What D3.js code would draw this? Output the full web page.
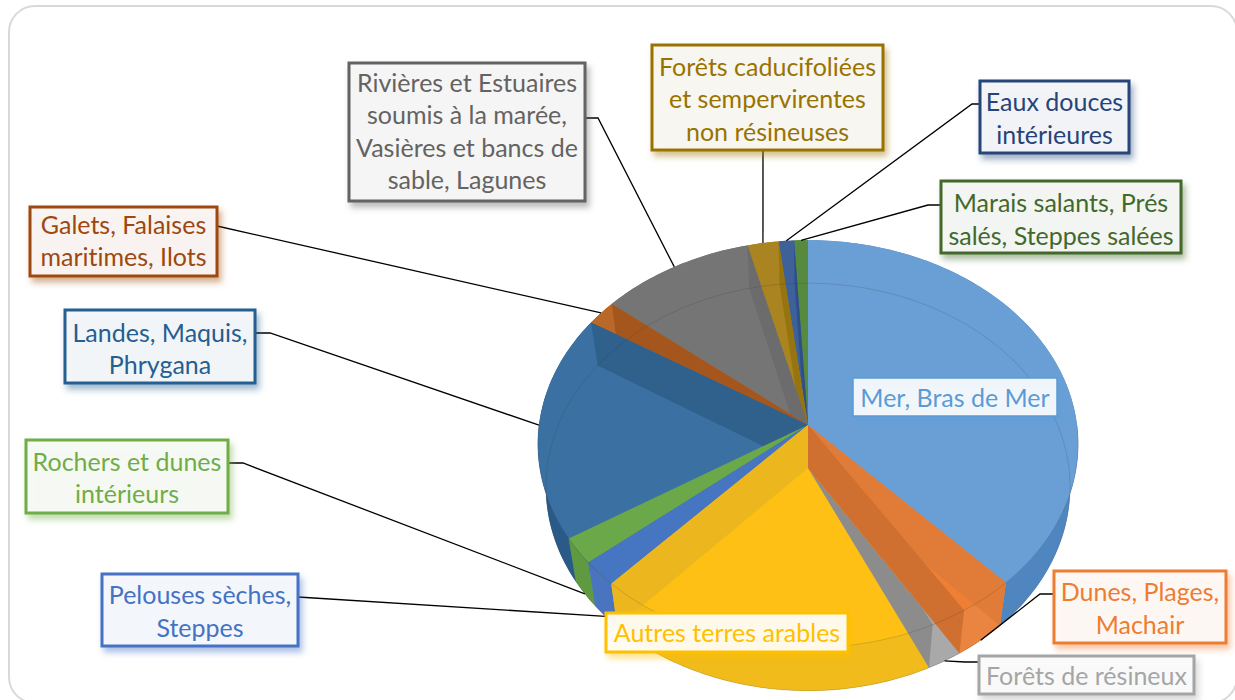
<!DOCTYPE html>
<html>
<head>
<meta charset="utf-8">
<style>
html, body { margin: 0; padding: 0; background: #fff; overflow: hidden; }
text { font-family: Lato, sans-serif; font-variant-ligatures: none; }
</style>
<script src="https://cdn.jsdelivr.net/npm/d3@7"></script>
</head>
<body>
<svg id="chart" width="1235" height="700"></svg>
<script>
// Data (share of area, %)
var categories = ["Mer, Bras de Mer", "Dunes, Plages, Machair", "Forêts de résineux", "Autres terres arables",
    "Pelouses sèches, Steppes", "Rochers et dunes intérieurs", "Landes, Maquis, Phrygana",
    "Galets, Falaises maritimes, Ilots", "Rivières et Estuaires soumis à la marée, Vasières et bancs de sable, Lagunes",
    "Forêts caducifoliées et sempervirentes non résineuses", "Eaux douces intérieures", "Marais salants, Prés salés, Steppes salées"];
var values = [37.95, 3.05, 2.0, 18.9, 2.0, 2.1, 17.9, 2.0, 10.1, 2.05, 1.0, 0.9];
var labelLines = [
    ["Mer, Bras de Mer"],
    ["Dunes, Plages,", "Machair"],
    ["Forêts de résineux"],
    ["Autres terres arables"],
    ["Pelouses sèches,", "Steppes"],
    ["Rochers et dunes", "intérieurs"],
    ["Landes, Maquis,", "Phrygana"],
    ["Galets, Falaises", "maritimes, Ilots"],
    ["Rivières et Estuaires", "soumis à la marée,", "Vasières et bancs de", "sable, Lagunes"],
    ["Forêts caducifoliées", "et sempervirentes", "non résineuses"],
    ["Eaux douces", "intérieures"],
    ["Marais salants, Prés", "salés, Steppes salées"]
];
var topColors = ["#6a9fd6", "#ef7f34", "#a5a5a5", "#fec015", "#4675c2", "#6aa84a", "#3b71a2", "#b9682a", "#757575", "#a98420", "#3f6199", "#578a3f"];
var lowerColors = ["#6a9fd6", "#ef7f34", "#8c8c8c", "#fec015", "#4675c2", "#6aa84a", "#3b71a2", "#b9682a", "#757575", "#a98420", "#3f6199", "#578a3f"];
var rimColors = ["#4f86c0", "#e98540", "#a9a9a9", "#f0bb1b", "#4a74bf", "#5f9a40", "#2a5a88", "#a5561c", "#6c6c6c", "#97750f", "#2f4f88", "#4f7f38"];
var endWallColors = [null, "#cf6f30", null, "#ecb61e", null, null, "#30608c", "#a5561c", "#6c6c6c", "#96750f", "#2f4f88", null];
var startWallColors = [null, "#e07c38", null, null, null, null, null, null, null, null, null, null];
var labelColors = ["#5b9bd5", "#ed7d31", "#a5a5a5", "#ffc000", "#4472c4", "#70ad47", "#255e91", "#9e480e", "#636363", "#997300", "#264478", "#43682b"];

// Paint order: Mer at the back, then round the left side, Forêts de résineux and Dunes last
var paintOrder = [0, 11, 10, 9, 8, 7, 6, 5, 4, 3, 2, 1];

// Label boxes: x, y, w, h
var boxes = [
    [853, 378, 204, 38], [1054, 571, 172, 72], [979, 656, 215, 38], [606, 613, 242, 39],
    [102, 574, 196, 72], [26, 440, 202, 73], [65, 310, 190, 73], [30, 207, 187, 69],
    [349, 63, 236, 138], [652, 45, 231, 105], [980, 81, 149, 72], [941, 181, 240, 72]
];
// small vertical nudge of each label's text inside its box
var textShift = [0, 1, 0, 0, 1, 1, 2, -1, -1, 1, 1, 2];
// Leader lines: box anchor, elbow point, and whether the line lands on the lower rim (null = no leader)
var leaders = [
    null,
    { from: [1054, 594], elbow: [1040, 594], lower: true },
    { from: [979, 662], elbow: [965, 662], lower: true },
    null,
    { from: [298, 597], elbow: null, lower: true },
    { from: [228, 463], elbow: [243, 463], lower: true },
    { from: [255, 333], elbow: [270, 333], lower: false },
    { from: [217, 226], elbow: null, lower: false },
    { from: [585, 118], elbow: [598, 118], lower: false },
    { from: [763, 150], elbow: null, lower: false },
    { from: [980, 104], elbow: [972, 104], lower: false },
    { from: [941, 205], elbow: [928, 205], lower: false }
];

var svg = d3.select("#chart");
var defs = svg.append("defs");

// Panel
svg.append("rect")
    .attr("x", 9).attr("y", 6).attr("width", 1228).attr("height", 697).attr("rx", 26)
    .attr("fill", "#fff").attr("stroke", "#d9d9d9").attr("stroke-width", 2);

// Pie geometry (perspective view of a cylinder)
var cx = 808, cy = 425, rx = 269, ry = 202, tilt = 0.093, depth = 43, lowerShrink = 0.97;
var xScale = d3.scaleLinear().domain([-1, 1]).range([cx - rx, cx + rx]);
var yScale = d3.scaleLinear().domain([-1, 1]).range([cy - ry, cy + ry]);

function project(angle, r, lower) {
    var s = r * Math.sin(angle), c = r * Math.cos(angle);
    var w = 1 + tilt * c;
    var x = xScale(s / w), y = yScale(-c / w);
    if (lower) {
        x = cx + (x - cx) * lowerShrink;
        y += depth;
    }
    return [x, y];
}

function rim(a0, a1, lower) {
    var n = Math.max(2, Math.ceil((a1 - a0) / 0.02));
    return d3.range(n + 1).map(function (i) {
        return project(a0 + (a1 - a0) * i / n, 1, lower);
    });
}

var line = d3.line();
var slices = d3.pie().sort(null)(values).map(function (d, i) {
    d.mid = (d.startAngle + d.endAngle) / 2;
    return d;
});

var apexTop = project(0, 0, false), apexLow = project(0, 0, true);
var pie = svg.append("g");

function radialWall(g, angle, color) {
    g.append("path")
        .attr("d", line([apexTop, project(angle, 1, false), project(angle, 1, true), apexLow]) + "Z")
        .attr("fill", color);
}

paintOrder.forEach(function (i) {
    var d = slices[i];
    var g = pie.append("g");

    // lower face
    g.append("path")
        .attr("d", line([apexLow].concat(rim(d.startAngle, d.endAngle, true))) + "Z")
        .attr("fill", lowerColors[i]);
    // outer wall
    g.append("path")
        .attr("d", line(rim(d.startAngle, d.endAngle, false).concat(rim(d.startAngle, d.endAngle, true).reverse())) + "Z")
        .attr("fill", rimColors[i]);
    // top face
    g.append("path")
        .attr("d", line([apexTop].concat(rim(d.startAngle, d.endAngle, false))) + "Z")
        .attr("fill", topColors[i]);
    // radial walls, seen through the top
    if (startWallColors[i]) radialWall(g, d.startAngle, startWallColors[i]);
    if (endWallColors[i]) radialWall(g, d.endAngle, endWallColors[i]);
});

// thin rim lines showing through
pie.append("path").attr("d", line(rim(0, 2 * Math.PI, true)))
    .attr("fill", "none").attr("stroke", "#333").attr("stroke-opacity", 0.18).attr("stroke-width", 1);
pie.append("path").attr("d", line(rim(Math.PI / 2, 3 * Math.PI / 2, false)))
    .attr("fill", "none").attr("stroke", "#333").attr("stroke-opacity", 0.18).attr("stroke-width", 1);

// Leader lines
leaders.forEach(function (l, i) {
    if (!l) return;
    var end = project(slices[i].mid, 1, l.lower);
    var pts = l.elbow ? [l.from, l.elbow, end] : [l.from, end];
    svg.append("path").attr("d", line(pts))
        .attr("fill", "none").attr("stroke", "#000").attr("stroke-width", 1.3);
});

// Labels
var lineHeight = 32.5;
categories.forEach(function (name, i) {
    var b = boxes[i];
    var fid = "shadow" + i;
    defs.append("filter").attr("id", fid)
        .attr("x", "-10%").attr("y", "-20%").attr("width", "125%").attr("height", "150%")
        .append("feDropShadow").attr("dx", 3).attr("dy", 5).attr("stdDeviation", 3)
        .attr("flood-color", labelColors[i]).attr("flood-opacity", 0.45);

    var g = svg.append("g").attr("class", "label");
    g.append("rect")
        .attr("x", b[0]).attr("y", b[1]).attr("width", b[2]).attr("height", b[3])
        .attr("fill", d3.interpolateRgb("#fff", labelColors[i])(0.05))
        .attr("fill-opacity", 0.95)
        .attr("stroke", labelColors[i]).attr("stroke-width", i === 0 ? 1.5 : 3)
        .attr("filter", "url(#" + fid + ")");
    var lines = labelLines[i];
    var top = b[1] + b[3] / 2 - lines.length * lineHeight / 2;
    lines.forEach(function (t, j) {
        g.append("text")
            .attr("x", b[0] + b[2] / 2)
            .attr("y", top + lineHeight * (j + 0.5) + 9.5 + textShift[i])
            .attr("text-anchor", "middle")
            .attr("font-size", 25)
            .attr("fill", labelColors[i])
            .text(t);
    });
});
</script>
</body>
</html>
